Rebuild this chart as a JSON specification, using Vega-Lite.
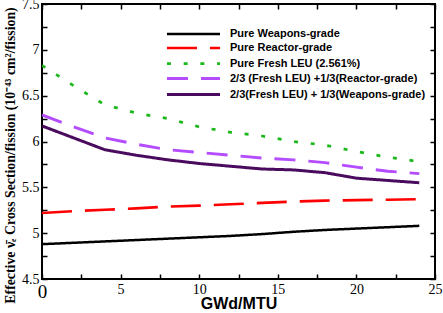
{
  "$schema": "https://vega.github.io/schema/vega-lite/v6.json",
  "width": 393,
  "height": 275,
  "autosize": "none",
  "padding": {"left": 42, "top": 4, "right": 8, "bottom": 34},
  "background": "white",
  "config": {
    "view": {"stroke": "black", "strokeWidth": 2},
    "axis": {"grid": false, "domain": false, "tickColor": "black", "tickWidth": 1.5, "labelColor": "black", "titleColor": "black"}
  },
  "data": {"values": [
    {"x": 0, "y": 4.88, "s": "Pure Weapons-grade"},
    {"x": 2, "y": 4.895, "s": "Pure Weapons-grade"},
    {"x": 4, "y": 4.91, "s": "Pure Weapons-grade"},
    {"x": 6, "y": 4.925, "s": "Pure Weapons-grade"},
    {"x": 8, "y": 4.94, "s": "Pure Weapons-grade"},
    {"x": 10, "y": 4.955, "s": "Pure Weapons-grade"},
    {"x": 12, "y": 4.97, "s": "Pure Weapons-grade"},
    {"x": 14, "y": 4.99, "s": "Pure Weapons-grade"},
    {"x": 16, "y": 5.015, "s": "Pure Weapons-grade"},
    {"x": 18, "y": 5.035, "s": "Pure Weapons-grade"},
    {"x": 20, "y": 5.05, "s": "Pure Weapons-grade"},
    {"x": 22, "y": 5.065, "s": "Pure Weapons-grade"},
    {"x": 24, "y": 5.08, "s": "Pure Weapons-grade"},
    {"x": 0, "y": 5.22, "s": "Pure Reactor-grade"},
    {"x": 2, "y": 5.24, "s": "Pure Reactor-grade"},
    {"x": 4, "y": 5.255, "s": "Pure Reactor-grade"},
    {"x": 6, "y": 5.27, "s": "Pure Reactor-grade"},
    {"x": 8, "y": 5.29, "s": "Pure Reactor-grade"},
    {"x": 10, "y": 5.3, "s": "Pure Reactor-grade"},
    {"x": 12, "y": 5.315, "s": "Pure Reactor-grade"},
    {"x": 14, "y": 5.33, "s": "Pure Reactor-grade"},
    {"x": 16, "y": 5.345, "s": "Pure Reactor-grade"},
    {"x": 18, "y": 5.355, "s": "Pure Reactor-grade"},
    {"x": 20, "y": 5.36, "s": "Pure Reactor-grade"},
    {"x": 22, "y": 5.365, "s": "Pure Reactor-grade"},
    {"x": 24, "y": 5.37, "s": "Pure Reactor-grade"},
    {"x": 0, "y": 6.83, "s": "Pure Fresh LEU (2.561%)"},
    {"x": 2, "y": 6.61, "s": "Pure Fresh LEU (2.561%)"},
    {"x": 4, "y": 6.4, "s": "Pure Fresh LEU (2.561%)"},
    {"x": 6, "y": 6.31, "s": "Pure Fresh LEU (2.561%)"},
    {"x": 8, "y": 6.25, "s": "Pure Fresh LEU (2.561%)"},
    {"x": 10, "y": 6.16, "s": "Pure Fresh LEU (2.561%)"},
    {"x": 12, "y": 6.1, "s": "Pure Fresh LEU (2.561%)"},
    {"x": 14, "y": 6.06, "s": "Pure Fresh LEU (2.561%)"},
    {"x": 16, "y": 6.0, "s": "Pure Fresh LEU (2.561%)"},
    {"x": 18, "y": 5.96, "s": "Pure Fresh LEU (2.561%)"},
    {"x": 20, "y": 5.89, "s": "Pure Fresh LEU (2.561%)"},
    {"x": 22, "y": 5.83, "s": "Pure Fresh LEU (2.561%)"},
    {"x": 24, "y": 5.78, "s": "Pure Fresh LEU (2.561%)"},
    {"x": 0, "y": 6.29, "s": "2/3 (Fresh LEU) +1/3(Reactor-grade)"},
    {"x": 2, "y": 6.16, "s": "2/3 (Fresh LEU) +1/3(Reactor-grade)"},
    {"x": 4, "y": 6.04, "s": "2/3 (Fresh LEU) +1/3(Reactor-grade)"},
    {"x": 6, "y": 5.97, "s": "2/3 (Fresh LEU) +1/3(Reactor-grade)"},
    {"x": 8, "y": 5.91, "s": "2/3 (Fresh LEU) +1/3(Reactor-grade)"},
    {"x": 10, "y": 5.88, "s": "2/3 (Fresh LEU) +1/3(Reactor-grade)"},
    {"x": 12, "y": 5.85, "s": "2/3 (Fresh LEU) +1/3(Reactor-grade)"},
    {"x": 14, "y": 5.82, "s": "2/3 (Fresh LEU) +1/3(Reactor-grade)"},
    {"x": 16, "y": 5.8, "s": "2/3 (Fresh LEU) +1/3(Reactor-grade)"},
    {"x": 18, "y": 5.77, "s": "2/3 (Fresh LEU) +1/3(Reactor-grade)"},
    {"x": 20, "y": 5.72, "s": "2/3 (Fresh LEU) +1/3(Reactor-grade)"},
    {"x": 22, "y": 5.675, "s": "2/3 (Fresh LEU) +1/3(Reactor-grade)"},
    {"x": 24, "y": 5.65, "s": "2/3 (Fresh LEU) +1/3(Reactor-grade)"},
    {"x": 0, "y": 6.17, "s": "2/3(Fresh LEU) + 1/3(Weapons-grade)"},
    {"x": 2, "y": 6.04, "s": "2/3(Fresh LEU) + 1/3(Weapons-grade)"},
    {"x": 4, "y": 5.91, "s": "2/3(Fresh LEU) + 1/3(Weapons-grade)"},
    {"x": 6, "y": 5.85, "s": "2/3(Fresh LEU) + 1/3(Weapons-grade)"},
    {"x": 8, "y": 5.8, "s": "2/3(Fresh LEU) + 1/3(Weapons-grade)"},
    {"x": 10, "y": 5.76, "s": "2/3(Fresh LEU) + 1/3(Weapons-grade)"},
    {"x": 12, "y": 5.73, "s": "2/3(Fresh LEU) + 1/3(Weapons-grade)"},
    {"x": 14, "y": 5.7, "s": "2/3(Fresh LEU) + 1/3(Weapons-grade)"},
    {"x": 16, "y": 5.69, "s": "2/3(Fresh LEU) + 1/3(Weapons-grade)"},
    {"x": 18, "y": 5.66, "s": "2/3(Fresh LEU) + 1/3(Weapons-grade)"},
    {"x": 20, "y": 5.6, "s": "2/3(Fresh LEU) + 1/3(Weapons-grade)"},
    {"x": 22, "y": 5.575, "s": "2/3(Fresh LEU) + 1/3(Weapons-grade)"},
    {"x": 24, "y": 5.55, "s": "2/3(Fresh LEU) + 1/3(Weapons-grade)"}
  ]},
  "resolve": {"axis": {"x": "independent", "y": "independent"}},
  "layer": [
    {
      "mark": {"type": "line", "strokeCap": "butt", "clip": true},
      "encoding": {
        "x": {"field": "x", "type": "quantitative", "scale": {"domain": [0, 25], "nice": false, "zero": false},
          "axis": {"orient": "bottom", "values": [0, 2.5, 5, 7.5, 10, 12.5, 15, 17.5, 20, 22.5, 25],
            "labelExpr": "datum.value % 5 == 0 ? '' + datum.value : ''",
            "tickSize": -5,
            "labelPadding": 8, "labelFont": "Liberation Serif",
            "labelFontSize": {"condition": {"test": "datum.value == 0", "value": 19}, "value": 14},
            "labelFlush": false,
            "title": "GWd/MTU", "titleFont": "Liberation Sans", "titleFontSize": 16, "titleFontWeight": "bold",
            "titleY": 29, "titleBaseline": "alphabetic"}},
        "y": {"field": "y", "type": "quantitative", "scale": {"domain": [4.5, 7.5], "nice": false, "zero": false},
          "axis": {"orient": "left", "values": [4.5, 4.75, 5, 5.25, 5.5, 5.75, 6, 6.25, 6.5, 6.75, 7, 7.25, 7.5],
            "labelExpr": "datum.value % 0.5 == 0 ? '' + datum.value : ''",
            "tickSize": -5,
            "labelPadding": 8, "labelFont": "Liberation Serif", "labelFontSize": 14, "labelFlush": false,
            "title": "Effective ν̄ₑ Cross Section/fission (10⁻⁴³ cm²/fission)", "titleFont": "Liberation Serif", "titleFontSize": 13.8, "titleFontWeight": "bold", "titlePadding": 4, "titleY": 151}},
        "color": {"field": "s", "type": "nominal", "title": null,
          "scale": {"domain": ["Pure Weapons-grade", "Pure Reactor-grade", "Pure Fresh LEU (2.561%)", "2/3 (Fresh LEU) +1/3(Reactor-grade)", "2/3(Fresh LEU) + 1/3(Weapons-grade)"],
            "range": ["#000000", "#ff0000", "#1cb81c", "#b44cff", "#4a0a5e"]},
          "legend": {"orient": "none", "legendX": 143, "legendY": 22, "padding": 0, "symbolType": "M-4,0H4", "symbolSize": 176, "symbolStrokeWidth": 3,
            "labelFont": "Liberation Sans", "labelFontSize": 11, "labelFontWeight": "bold", "labelColor": "black", "labelLimit": 300, "rowPadding": 1, "labelOffset": 28}},
        "strokeDash": {"field": "s", "type": "nominal", "title": null,
          "scale": {"domain": ["Pure Weapons-grade", "Pure Reactor-grade", "Pure Fresh LEU (2.561%)", "2/3 (Fresh LEU) +1/3(Reactor-grade)", "2/3(Fresh LEU) + 1/3(Weapons-grade)"],
            "range": [[1, 0], [30, 13], [4, 12.7], [21, 13], [1, 0]]}},
        "strokeWidth": {"field": "s", "type": "nominal", "title": null,
          "scale": {"domain": ["Pure Weapons-grade", "Pure Reactor-grade", "Pure Fresh LEU (2.561%)", "2/3 (Fresh LEU) +1/3(Reactor-grade)", "2/3(Fresh LEU) + 1/3(Weapons-grade)"],
            "range": [2.5, 3, 4, 3, 3]}},
        "order": {"field": "x", "type": "quantitative"}
      }
    },
    {
      "mark": {"type": "line", "opacity": 0},
      "encoding": {
        "x": {"field": "x", "type": "quantitative", "scale": {"domain": [0, 25], "nice": false, "zero": false},
          "axis": {"orient": "top", "values": [0, 2.5, 5, 7.5, 10, 12.5, 15, 17.5, 20, 22.5, 25], "labels": false, "title": null,
            "tickSize": -5}},
        "y": {"field": "y", "type": "quantitative", "scale": {"domain": [4.5, 7.5], "nice": false, "zero": false},
          "axis": {"orient": "right", "values": [4.5, 4.75, 5, 5.25, 5.5, 5.75, 6, 6.25, 6.5, 6.75, 7, 7.25, 7.5], "labels": false, "title": null,
            "tickSize": -5}},
        "detail": {"field": "s", "type": "nominal"}
      }
    }
  ]
}
